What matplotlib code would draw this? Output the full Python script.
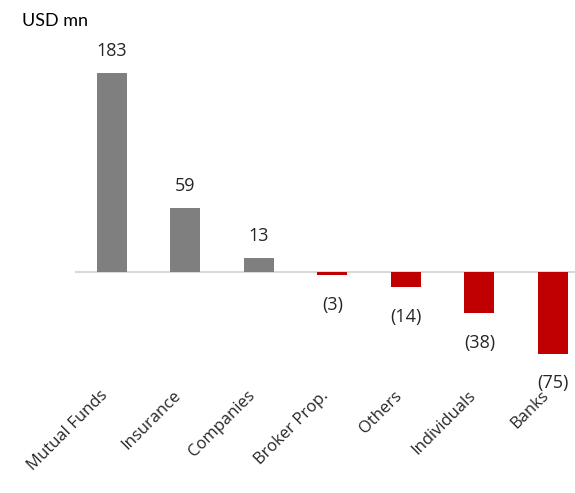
import matplotlib.pyplot as plt
import matplotlib.transforms as mtransforms

categories = ['Mutual Funds', 'Insurance', 'Companies', 'Broker Prop.',
              'Others', 'Individuals', 'Banks']
values = [183, 59, 13, -3, -14, -38, -75]

plt.rcParams['font.family'] = ['Open Sans', 'DejaVu Sans']

fig = plt.figure(figsize=(5.75, 4.93), dpi=100)
ax = fig.add_axes([0.1304, 0.2276, 0.8696, 0.662])

colors = ['#7f7f7f' if v >= 0 else '#c00000' for v in values]
x = range(len(values))
ax.bar(x, values, width=0.41, color=colors, zorder=2)
ax.axhline(0, color='#d9d9d9', lw=1.5, zorder=1)

for i, v in enumerate(values):
    if v >= 0:
        ax.annotate(str(v), (i, v), xytext=(0, 9), textcoords='offset points',
                    ha='center', va='bottom', fontsize=13, color='#262626')
    else:
        ax.annotate('(%d)' % -v, (i, v), xytext=(0, -15), textcoords='offset points',
                    ha='center', va='top', fontsize=13, color='#262626')

ax.set_xlim(-0.5, 6.30)
ax.set_ylim(-100, 200)
ax.set_xticks(list(x))
ax.set_xticklabels(categories, rotation=45, ha='right', rotation_mode='anchor',
                   fontsize=12, color='#262626')
ax.tick_params(axis='x', length=0, pad=5)
shift = mtransforms.ScaledTranslation(-12 / 100, 0, fig.dpi_scale_trans)
for lab in ax.get_xticklabels():
    lab.set_transform(lab.get_transform() + shift)
ax.set_yticks([])
for s in ax.spines.values():
    s.set_visible(False)

fig.text(0.038, 0.958, 'USD mn', fontsize=13, family=['Lato', 'DejaVu Sans'],
         color='black', va='center', ha='left')

fig.savefig('out.png', dpi=100)
